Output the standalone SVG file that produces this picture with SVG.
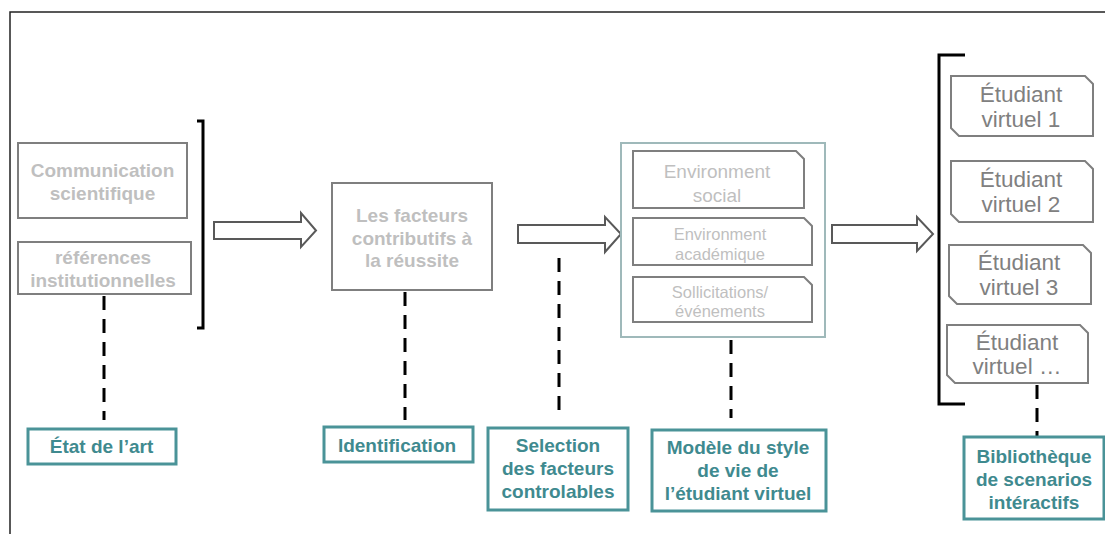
<svg xmlns="http://www.w3.org/2000/svg" width="1105" height="534" viewBox="0 0 1105 534">
<style>
.frame{fill:none;stroke:#222;stroke-width:1.5}
.gbox{fill:#fff;stroke:#7f7f7f;stroke-width:2}
.gt{font-family:"Liberation Sans",Arial,sans-serif;font-weight:bold;font-size:19px;fill:#bfbfbf;text-anchor:middle}
.lt{font-family:"Liberation Sans",Arial,sans-serif;font-size:19px;fill:#bfbfbf;text-anchor:middle}
.st{font-family:"Liberation Sans",Arial,sans-serif;font-size:16.5px;fill:#bfbfbf;text-anchor:middle}
.et{font-family:"Liberation Sans",Arial,sans-serif;font-size:22.5px;fill:#808080;text-anchor:middle}
.tbox{fill:#fff;stroke:#4a9398;stroke-width:3}
.tt{font-family:"Liberation Sans",Arial,sans-serif;font-weight:bold;font-size:19px;fill:#3f8a8f;text-anchor:middle}
.arrow{fill:#fff;stroke:#595959;stroke-width:2;stroke-linejoin:miter}
.dash{stroke:#000;stroke-width:3;stroke-dasharray:14 9;fill:none}
.brk{fill:none;stroke:#000;stroke-width:3}
.cont{fill:#fff;stroke:#9fb9ba;stroke-width:2}
</style>
<rect width="1105" height="534" fill="#fff"/>
<path class="frame" d="M10,534 V12 H1105"/>
<g id="connectors">
<path class="brk" d="M197,121 H203 V328 H197"/>
<path class="brk" d="M965,55 H939 V404 H965"/>
<path class="arrow" d="M214,222 H301 V213 L316,230.5 L301,247 V239 H214 Z"/>
<path class="arrow" d="M518,225 H605 V217 L621,234 L605,252 V243 H518 Z"/>
<path class="arrow" d="M832,225 H917 V217 L933,234 L917,251 V243 H832 Z"/>
<line class="dash" x1="104" y1="296" x2="104" y2="420"/>
<line class="dash" x1="405" y1="292" x2="405" y2="420"/>
<line class="dash" x1="559" y1="258" x2="559" y2="411"/>
<line class="dash" x1="731" y1="340" x2="731" y2="418"/>
<line class="dash" x1="1037" y1="385" x2="1037" y2="436"/>
</g>
<g id="communication">
<rect class="gbox" x="18" y="143" width="169" height="75"/>
<text class="gt" x="102.5" y="177">Communication</text>
<text class="gt" x="102.5" y="200">scientifique</text>
</g>
<g id="references">
<rect class="gbox" x="18" y="242" width="173" height="52"/>
<text class="gt" x="103" y="264">références</text>
<text class="gt" x="103" y="287">institutionnelles</text>
</g>
<g id="facteurs">
<rect class="gbox" x="332" y="183" width="160" height="107"/>
<text class="gt" x="412" y="222">Les facteurs</text>
<text class="gt" x="412" y="245">contributifs à</text>
<text class="gt" x="412" y="267">la réussite</text>
</g>
<g id="modele-container">
<rect class="cont" x="621" y="143" width="204" height="194"/>
</g>
<g id="env-social">
<path class="gbox" d="M633,151 H796 L804,159 V208 H633 Z"/>
<text class="lt" x="717" y="178">Environment</text>
<text class="lt" x="717" y="202">social</text>
</g>
<g id="env-academique">
<path class="gbox" d="M633,218 H804 L812,226 V265 H633 Z"/>
<text class="st" x="720" y="240">Environment</text>
<text class="st" x="720" y="260">académique</text>
</g>
<g id="sollicitations">
<path class="gbox" d="M633,277 H804 L812,285 V322 H633 Z"/>
<text class="st" x="720" y="298">Sollicitations/</text>
<text class="st" x="720" y="317">événements</text>
</g>
<g id="etudiant1">
<path class="gbox" d="M951,76 H1085 L1093,84 V136 H959 L951,128 Z"/>
<text class="et" x="1021" y="102">Étudiant</text>
<text class="et" x="1021" y="127">virtuel 1</text>
</g>
<g id="etudiant2">
<path class="gbox" d="M951,161 H1085 L1093,169 V222 H959 L951,214 Z"/>
<text class="et" x="1021" y="187">Étudiant</text>
<text class="et" x="1021" y="212">virtuel 2</text>
</g>
<g id="etudiant3">
<path class="gbox" d="M949,245 H1083 L1091,253 V304 H957 L949,296 Z"/>
<text class="et" x="1019" y="270">Étudiant</text>
<text class="et" x="1019" y="295">virtuel 3</text>
</g>
<g id="etudiant4">
<path class="gbox" d="M947,325 H1080 L1088,333 V383 H955 L947,375 Z"/>
<text class="et" x="1017" y="350">Étudiant</text>
<text class="et" x="1017" y="374">virtuel …</text>
</g>
<g id="label-etat">
<rect class="tbox" x="28" y="429" width="148" height="35"/>
<text class="tt" x="101.5" y="453">État de l’art</text>
</g>
<g id="label-identification">
<rect class="tbox" x="324" y="427" width="149" height="35"/>
<text class="tt" x="397" y="452">Identification</text>
</g>
<g id="label-selection">
<rect class="tbox" x="488" y="428" width="140" height="82"/>
<text class="tt" x="558" y="452">Selection</text>
<text class="tt" x="558" y="475">des facteurs</text>
<text class="tt" x="558" y="498">controlables</text>
</g>
<g id="label-modele">
<rect class="tbox" x="652" y="430" width="174" height="81"/>
<text class="tt" x="738" y="454">Modèle du style</text>
<text class="tt" x="738" y="477">de vie de</text>
<text class="tt" x="738" y="500">l’étudiant virtuel</text>
</g>
<g id="label-bibliotheque">
<rect class="tbox" x="964" y="437" width="140" height="82"/>
<text class="tt" x="1034" y="463">Bibliothèque</text>
<text class="tt" x="1034" y="486">de scenarios</text>
<text class="tt" x="1034" y="509">intéractifs</text>
</g>
</svg>
